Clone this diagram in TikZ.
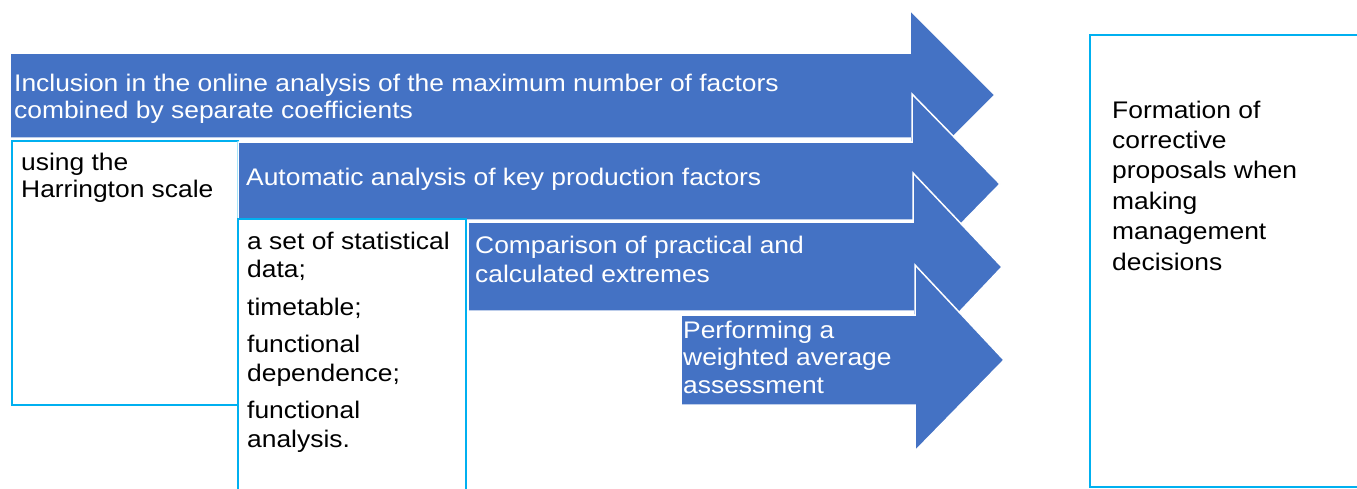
\documentclass[tikz,border=0pt]{standalone}
\usepackage{fontspec}
\setmainfont{Liberation Sans}[FakeStretch=1.1]
\definecolor{arrowblue}{HTML}{4472C4}
\definecolor{framecyan}{HTML}{00B0F0}
\tikzset{
  bluearrow/.style={fill=arrowblue,draw=white,line width=1.5pt},
  framebox/.style={fill=white,draw=framecyan,line width=2pt},
  wtext/.style={anchor=base west,inner sep=0pt,align=left,text=white,font=\fontsize{24}{27}\selectfont},
  btext/.style={wtext,text=black}
}
\begin{document}
\begin{tikzpicture}[x=1pt,y=-1pt]
\useasboundingbox (0,0) rectangle (1357,488);
\clip (0,0) rectangle (1357,488);
%\draw[step=50,gray](0,0) grid (1357,488);
% node positions are at the baseline of the last line
\draw[bluearrow] (10,53)--(910,53)--(910,10)--(995,95)--(910,180)--(910,138)--(10,138)--cycle;
\node[wtext] (inclusion) at (14,118) {Inclusion in the online analysis of the maximum number of factors\\combined by separate coefficients};
\draw[framebox] (12,141) rectangle (238,405);
\node[btext] (harrington) at (21,197) {using the\\Harrington scale};
\draw[bluearrow] (238,142)--(912,142)--(912,94)--(1000,184)--(912,274)--(912,220)--(238,220)--cycle;
\node[wtext] (automatic) at (246,185) {Automatic analysis of key production factors};
\draw[framebox] (238,219) rectangle (466,500);
\node[btext,font=\fontsize{24}{28.5}\selectfont] (statdata) at (247,447) {a set of statistical\\data;\\[9pt]timetable;\\[9pt]functional\\dependence;\\[9pt]functional\\analysis.};
\draw[bluearrow] (468,222)--(913,222)--(913,173)--(1002,267)--(913,361)--(913,311)--(468,311)--cycle;
\node[wtext,font=\fontsize{24}{29}\selectfont] (comparison) at (475,282) {Comparison of practical and\\calculated extremes};
\draw[bluearrow] (681,315)--(915,315)--(915,265)--(1004,360)--(915,451)--(915,405)--(681,405)--cycle;
\node[wtext,font=\fontsize{24}{27.5}\selectfont] (weighted) at (683,393) {Performing a\\weighted average\\assessment};
\draw[framebox] (1090,35) rectangle (1380,487);
\node[btext,font=\fontsize{24}{30.4}\selectfont] (formation) at (1112,270) {Formation of\\corrective\\proposals when\\making\\management\\decisions};
\end{tikzpicture}
\end{document}
